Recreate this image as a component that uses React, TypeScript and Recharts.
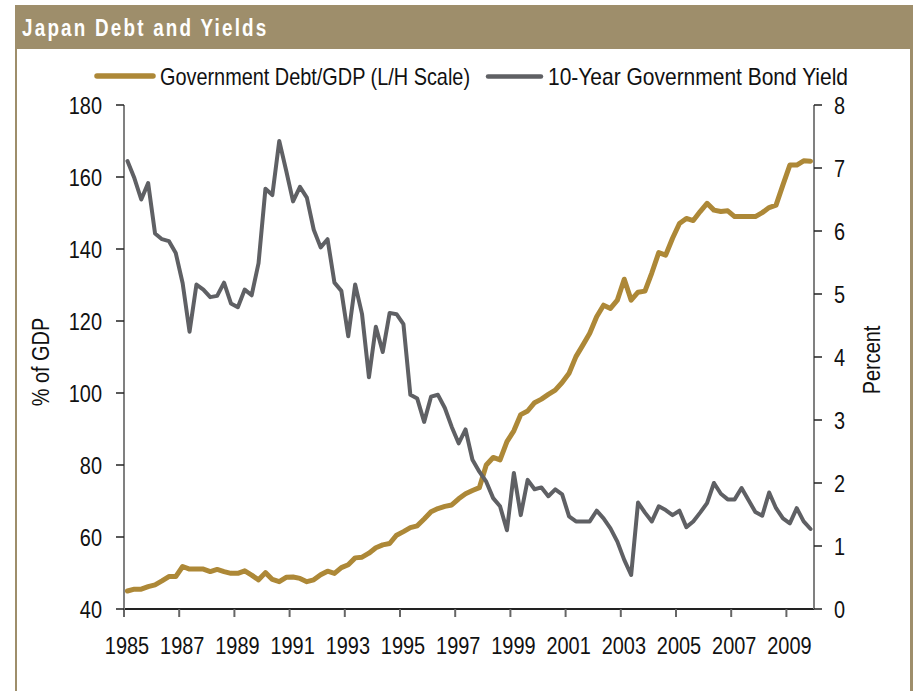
import React from 'react';
import { LineChart, Line, XAxis, YAxis, Label } from 'recharts';

const START_YEAR = 1985;
const PERIODS_PER_YEAR = 4;
const YEAR_TICKS = [1985, 1987, 1989, 1991, 1993, 1995, 1997, 1999, 2001, 2003, 2005, 2007, 2009];
const LEFT_TICKS = [40, 60, 80, 100, 120, 140, 160, 180];
const RIGHT_TICKS = [0, 1, 2, 3, 4, 5, 6, 7, 8];

const DEBT_GDP = [
  45.0, 45.5, 45.5, 46.2, 46.7, 47.8, 49.0, 49.0, 51.8, 51.1,
  51.1, 51.1, 50.4, 51.0, 50.4, 49.9, 49.9, 50.6, 49.4, 48.1,
  50.1, 48.2, 47.6, 48.8, 48.9, 48.5, 47.6, 48.1, 49.5, 50.5,
  49.9, 51.5, 52.3, 54.2, 54.4, 55.5, 57.0, 57.8, 58.2, 60.5,
  61.5, 62.6, 63.1, 65.0, 67.0, 67.9, 68.5, 68.9, 70.6, 72.0,
  72.9, 73.7, 80.0, 82.1, 81.4, 86.5, 89.5, 94.0, 95.0, 97.3,
  98.3, 99.6, 100.8, 102.9, 105.5, 110.1, 113.3, 116.6, 121.2, 124.4,
  123.5, 125.8, 131.6, 125.8, 128.0, 128.3, 133.4, 139.0, 138.3, 143.0,
  147.1, 148.5, 147.9, 150.4, 152.7, 150.8, 150.4, 150.6, 149.0, 149.0,
  149.0, 149.0, 150.1, 151.5, 152.2, 157.8, 163.3, 163.3, 164.5, 164.4,
];

const BOND_YIELD = [
  7.11, 6.84, 6.50, 6.76, 5.96, 5.87, 5.84, 5.65, 5.17, 4.40,
  5.15, 5.07, 4.95, 4.97, 5.18, 4.85, 4.79, 5.07, 4.98, 5.49,
  6.67, 6.57, 7.43, 6.96, 6.47, 6.70, 6.53, 6.02, 5.74, 5.87,
  5.18, 5.05, 4.33, 5.15, 4.68, 3.68, 4.48, 4.08, 4.70, 4.68,
  4.52, 3.40, 3.34, 2.97, 3.37, 3.40, 3.19, 2.89, 2.63, 2.85,
  2.37, 2.18, 2.02, 1.76, 1.63, 1.25, 2.16, 1.49, 2.05, 1.90,
  1.93, 1.79, 1.90, 1.82, 1.47, 1.39, 1.39, 1.39, 1.56, 1.44,
  1.28, 1.07, 0.78, 0.54, 1.69, 1.53, 1.39, 1.63, 1.57, 1.49,
  1.56, 1.30, 1.39, 1.53, 1.68, 2.00, 1.83, 1.74, 1.74, 1.92,
  1.73, 1.54, 1.48, 1.85, 1.60, 1.44, 1.36, 1.60, 1.39, 1.27,
];

const SERIES_NAMES = ['Government Debt/GDP (L/H Scale)', '10-Year Government Bond Yield'];
const TITLE = 'Japan Debt and Yields';
const AXIS_TITLES = ['% of GDP', 'Percent'];

const data = DEBT_GDP.map((d, i) => ({
  t: START_YEAR + (i + 0.5) / PERIODS_PER_YEAR,
  debt: d,
  yld: BOND_YIELD[i],
}));

const FONT = '"Liberation Sans", Arial, Helvetica, sans-serif';
const NARROW = 0.83;
const GOLD = '#ad8837';
const GRAY = '#5f6064';
const FRAME = '#9e8e6b';
const TEXT = '#111';

const makeTick = (orientation: 'bottom' | 'left' | 'right') => (props: any) => {
  const { x, y, payload } = props;
  const anchor = orientation === 'bottom' ? 'middle' : orientation === 'left' ? 'end' : 'start';
  const dy = orientation === 'bottom' ? '0.71em' : '0.355em';
  const dx = orientation === 'bottom' ? 3 : 0;
  return (
    <g transform={`translate(${x + dx},${y}) scale(${NARROW},1)`}>
      <text x={0} y={0} dy={dy} textAnchor={anchor} fontFamily={FONT} fontSize={24} fill={TEXT}>
        {payload.value}
      </text>
    </g>
  );
};

const RotatedLabel = (text: string, dxFromAxisX: number, dy: number) => (props: any) => {
  const vb = props.viewBox || { x: 0, y: 0, width: 0, height: 0 };
  const x = vb.x + dxFromAxisX;
  const y = vb.y + vb.height / 2 + dy;
  return (
    <g transform={`translate(${x},${y}) rotate(-90) scale(${NARROW},1)`}>
      <text x={0} y={0} textAnchor="middle" dy="0.355em" fontFamily={FONT} fontSize={24} fill={TEXT}>
        {text}
      </text>
    </g>
  );
};

export default function App() {
  return (
    <div style={{ position: 'absolute', left: 0, top: 0, width: 913, height: 691, background: '#fff', overflow: 'hidden' }}>
      <div style={{ position: 'absolute', left: 15, top: 5, width: 2, height: 686, background: FRAME }} />
      <div style={{ position: 'absolute', left: 910, top: 5, width: 3, height: 686, background: FRAME }} />
      <div style={{ position: 'absolute', left: 15, top: 5, width: 898, height: 44, background: FRAME }} />
      <svg width={913} height={100} style={{ position: 'absolute', left: 0, top: 0 }}>
        <g transform={`translate(22,36) scale(0.82,1)`}>
          <text x={0} y={0} fontFamily={FONT} fontWeight={700} fontSize={23} fill="#fff" letterSpacing={2.7}>
            {TITLE}
          </text>
        </g>
        <line x1={97} y1={76} x2={153} y2={76} stroke={GOLD} strokeWidth={5.5} strokeLinecap="round" />
        <text x={160} y={84.5} textLength={310} lengthAdjust="spacingAndGlyphs" fontFamily={FONT} fontSize={24} fill={TEXT}>
          {SERIES_NAMES[0]}
        </text>
        <line x1={488} y1={76.5} x2={541} y2={76.5} stroke={GRAY} strokeWidth={4.5} strokeLinecap="round" />
        <text x={548} y={84.5} textLength={300} lengthAdjust="spacingAndGlyphs" fontFamily={FONT} fontSize={24} fill={TEXT}>
          {SERIES_NAMES[1]}
        </text>
      </svg>
      <div style={{ position: 'absolute', left: 0, top: 0 }}>
        <LineChart width={913} height={691} data={data} margin={{ top: 105, right: 0, bottom: 0, left: 0 }}>
          <XAxis
            dataKey="t"
            type="number"
            domain={[1985, 2010]}
            ticks={YEAR_TICKS}
            interval={0}
            allowDataOverflow
            height={82}
            tickSize={8}
            tickMargin={20}
            tick={makeTick('bottom')}
            axisLine={{ stroke: '#222', strokeWidth: 2 }}
            tickLine={{ stroke: '#666', strokeWidth: 2 }}
          />
          <YAxis
            yAxisId="left"
            orientation="left"
            domain={[40, 180]}
            ticks={LEFT_TICKS}
            interval={0}
            width={124}
            tickSize={8}
            tickMargin={14}
            tick={makeTick('left')}
            axisLine={{ stroke: '#808080', strokeWidth: 2 }}
            tickLine={{ stroke: '#222', strokeWidth: 1.5 }}
          >
            <Label content={RotatedLabel(AXIS_TITLES[0], 40, 5)} />
          </YAxis>
          <YAxis
            yAxisId="right"
            orientation="right"
            domain={[0, 8]}
            ticks={RIGHT_TICKS}
            interval={0}
            width={99}
            tickSize={8}
            tickMargin={12}
            tick={makeTick('right')}
            axisLine={{ stroke: '#808080', strokeWidth: 2 }}
            tickLine={{ stroke: '#222', strokeWidth: 1.5 }}
          >
            <Label content={RotatedLabel(AXIS_TITLES[1], 57, 3)} />
          </YAxis>
          <Line
            yAxisId="left"
            dataKey="debt"
            stroke={GOLD}
            strokeWidth={5}
            dot={false}
            activeDot={false}
            isAnimationActive={false}
            strokeLinejoin="round"
            strokeLinecap="round"
          />
          <Line
            yAxisId="right"
            dataKey="yld"
            stroke={GRAY}
            strokeWidth={4}
            dot={false}
            activeDot={false}
            isAnimationActive={false}
            strokeLinejoin="round"
            strokeLinecap="round"
          />
        </LineChart>
      </div>
    </div>
  );
}
